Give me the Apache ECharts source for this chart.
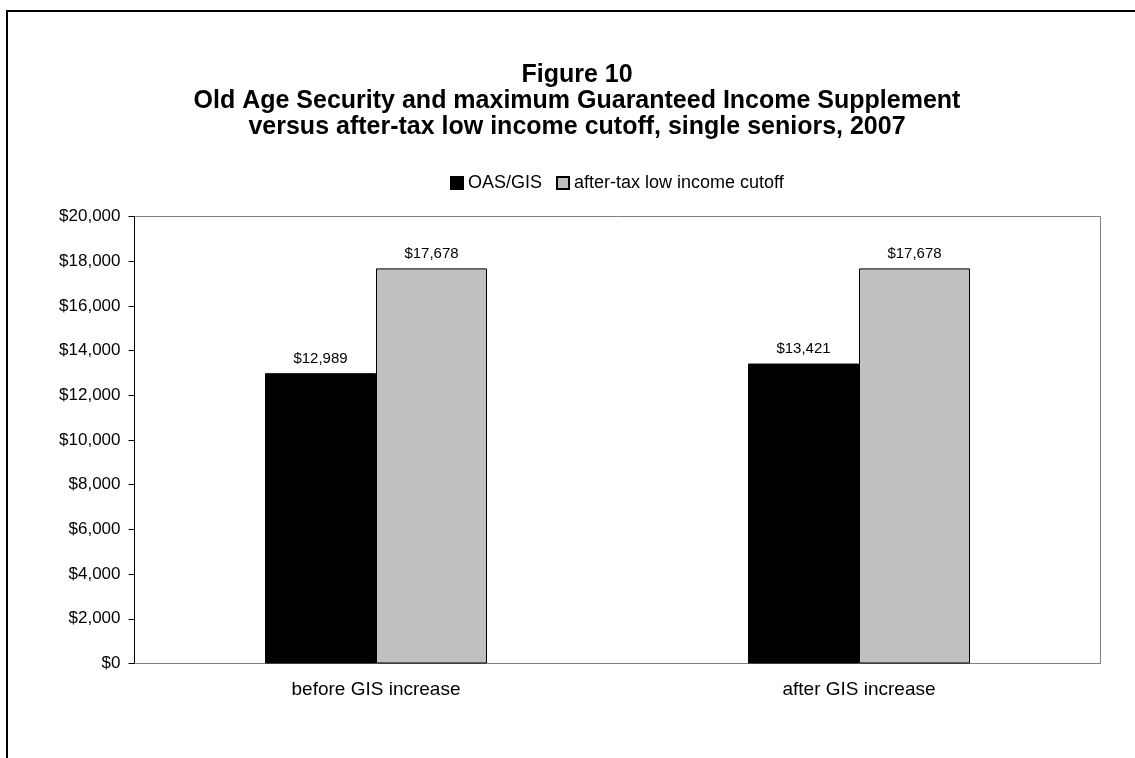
<!DOCTYPE html>
<html><head><meta charset="utf-8">
<script src="https://cdn.jsdelivr.net/npm/echarts@6/dist/echarts.min.js"></script>
<style>html,body{margin:0;padding:0;background:#fff}#c{width:1135px;height:758px}</style>
</head><body><div id="c"></div>
<script>
const categories = ['before GIS increase', 'after GIS increase'];
const oasGis = [12989, 13421];
const lico = [17678, 17678];
const seriesNames = ['OAS/GIS', 'after-tax low income cutoff'];
const titleLines = ['Figure 10', 'Old Age Security and maximum Guaranteed Income Supplement', 'versus after-tax low income cutoff, single seniors, 2007'];

const fmt = v => '$' + v.toLocaleString('en-US');
const chart = echarts.init(document.getElementById('c'), null, {renderer: 'canvas'});
const FONT = '"Liberation Sans", Arial, sans-serif';
chart.setOption({
  backgroundColor: '#fff',
  animation: false,
  textStyle: {fontFamily: FONT},
  title: {
    text: titleLines.join('\n'),
    left: 572, textAlign: 'center', top: 57,
    textStyle: {fontSize: 25, fontWeight: 'bold', color: '#000', lineHeight: 26, fontFamily: FONT}
  },
  legend: {
    top: 169, left: 445,
    itemWidth: 12, itemHeight: 12, itemGap: 14,
    icon: 'rect',
    textStyle: {fontSize: 18, color: '#000'},
    data: seriesNames
  },
  graphic: [{
    type: 'rect', shape: {x: 7, y: 11, width: 1200, height: 900},
    style: {fill: 'none', stroke: '#000', lineWidth: 2}, silent: true
  }],
  grid: {left: 134.5, top: 216.5, width: 966, height: 447, show: true, borderColor: '#808080', borderWidth: 1, backgroundColor: 'transparent'},
  xAxis: {
    type: 'category', data: categories,
    axisLine: {lineStyle: {color: '#808080'}},
    axisTick: {show: false},
    axisLabel: {fontSize: 19, color: '#000', margin: 17}
  },
  yAxis: {
    type: 'value', min: 0, max: 20000, interval: 2000,
    axisLine: {show: true, lineStyle: {color: '#000'}},
    axisTick: {show: true, length: 6, lineStyle: {color: '#000'}},
    splitLine: {show: false},
    axisLabel: {fontSize: 17, color: '#000', margin: 14, formatter: v => fmt(v)}
  },
  series: [
    {name: seriesNames[0], type: 'bar', data: oasGis, barWidth: 111, barGap: '0%',
     itemStyle: {color: '#000', borderColor: '#000', borderWidth: 1},
     label: {show: true, position: 'top', distance: 7, fontSize: 15, color: '#000', formatter: p => fmt(p.value)}},
    {name: seriesNames[1], type: 'bar', data: lico, barWidth: 111, barGap: '0%',
     itemStyle: {color: '#c0c0c0', borderColor: '#000', borderWidth: 1},
     label: {show: true, position: 'top', distance: 7, fontSize: 15, color: '#000', formatter: p => fmt(p.value)}}
  ]
});
</script></body></html>
